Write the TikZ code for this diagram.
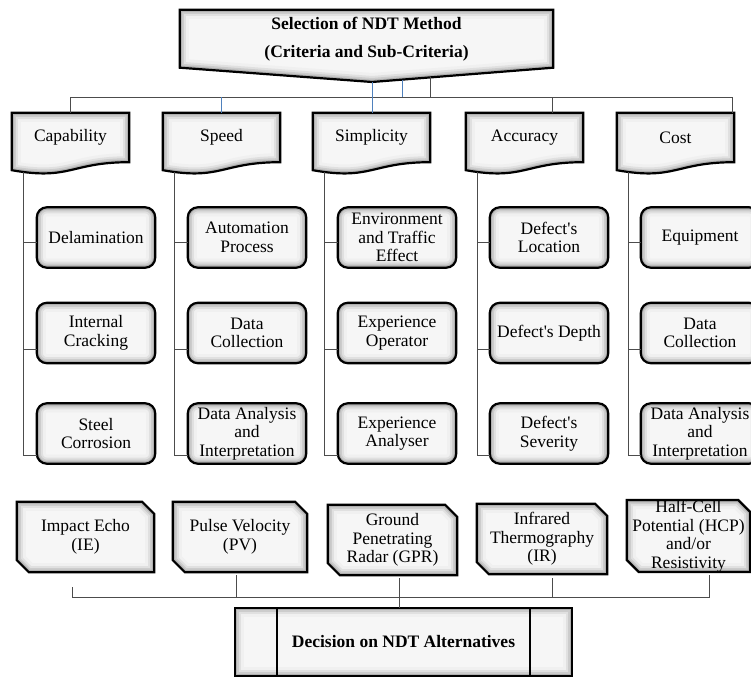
\documentclass[tikz,border=0pt]{standalone}
\usepackage{fontspec}
\setmainfont{Liberation Serif}
\usetikzlibrary{calc,backgrounds}
\definecolor{lineblue}{RGB}{79,129,189}
\newcommand\myfs{\fontsize{17.5}{18.5}\selectfont}
\newcommand\glowpath[1]{%
  \begin{scope}
    \clip #1;
    \fill[gray!7] #1;
    \draw[gray!12,line width=18pt] #1;
    \draw[gray!24,line width=12pt] #1;
    \draw[gray!40,line width=8pt] #1;
    \draw[gray!62,line width=4.5pt] #1;
  \end{scope}
  \draw[line width=2.2pt] #1;}
\begin{document}
\begin{tikzpicture}[x=1pt,y=-1pt,
  txt/.style={inner sep=0pt, align=center, font=\myfs},
  conn/.style={draw=black!70, line width=1pt},
  bconn/.style={draw=lineblue, line width=1pt}]
\useasboundingbox (0,0) rectangle (751,677);

% title
\node[txt, minimum width=373pt, minimum height=57.5pt, font=\fontsize{17.5}{28}\selectfont\bfseries] (top) at (366.5,38.75) {Selection of NDT Method\\(Criteria and Sub-Criteria)};
\coordinate (tip) at (372,82);
\coordinate (st1) at (402,79.6);
\coordinate (st2) at (430,77.4);
\coordinate (bus) at (0,97);
\coordinate (bbus) at (0,597);

% criteria
\node[txt, minimum width=117pt, minimum height=49pt] (c1) at (70.5,137.5) {Capability};
\node[txt, minimum width=117pt, minimum height=49pt] (c2) at (221.5,137.5) {Speed};
\node[txt, minimum width=117pt, minimum height=49pt] (c3) at (371.5,137.5) {Simplicity};
\node[txt, minimum width=117pt, minimum height=49pt] (c4) at (524.5,137.5) {Accuracy};
\node[txt, minimum width=117pt, minimum height=49pt] (c5) at (675.5,137.5) {Cost};
\coordinate (c4d) at ($(c4.north)+(28,0)$);
\coordinate (c5d) at ($(c5.north east)+(-2,0)$);

% sub-criteria
\tikzset{sub/.style={txt, minimum width=118pt, minimum height=60pt}}
\node[sub] (s11) at (96,237.5) {Delamination};
\node[sub] (s12) at (96,333) {Internal\\Cracking};
\node[sub] (s13) at (96,433.5) {Steel\\Corrosion};
\node[sub] (s21) at (247,237.5) {Automation\\Process};
\node[sub] (s22) at (247,333) {Data\\Collection};
\node[sub] (s23) at (247,433.5) {Data Analysis\\and\\Interpretation};
\node[sub] (s31) at (397,237.5) {Environment\\and Traffic\\Effect};
\node[sub] (s32) at (397,333) {Experience\\Operator};
\node[sub] (s33) at (397,433.5) {Experience\\Analyser};
\node[sub] (s41) at (549,237.5) {Defect\textquotesingle s\\Location};
\node[sub] (s42) at (549,333) {Defect\textquotesingle s Depth};
\node[sub] (s43) at (549,433.5) {Defect\textquotesingle s\\Severity};
\node[sub] (s51) at (700,237.5) {Equipment};
\node[sub] (s52) at (700,333) {Data\\Collection};
\node[sub] (s53) at (700,433.5) {Data Analysis\\and\\Interpretation};

% methods
\node[txt, minimum width=137pt, minimum height=70pt] (m1) at (85.5,537) {Impact Echo\\(IE)};
\node[txt, minimum width=134pt, minimum height=70pt] (m2) at (240,537) {Pulse Velocity\\(PV)};
\node[txt, minimum width=129pt, minimum height=70pt] (m3) at (392.5,540) {Ground\\Penetrating\\Radar (GPR)};
\node[txt, minimum width=130pt, minimum height=70pt] (m4) at (542,539) {Infrared\\Thermography\\(IR)};
\node[txt, minimum width=123pt, minimum height=70pt] (m5) at (688.5,536) {Half-Cell\\Potential (HCP)\\and/or\\Resistivity};

% decision
\node[txt, minimum width=337pt, minimum height=68pt, font=\myfs\bfseries] (d) at (403.5,642) {Decision on NDT Alternatives};

\begin{pgfonlayer}{background}
  \glowpath{(top.north west) -- (top.north east) -- (top.south east) -- (tip) -- (top.south west) -- cycle}
  \foreach \nm in {c1,c2,c3,c4,c5}{
    \glowpath{(\nm.north west) -- (\nm.north east) -- (\nm.south east) .. controls (\nm.south) and ($(\nm.south)+(0,18.5)$) .. ($(\nm.south west)+(0,8)$) -- cycle}
  }
  \foreach \nm in {s11,s12,s13,s21,s22,s23,s31,s32,s33,s41,s42,s43,s51,s52,s53}{
    \glowpath{[rounded corners=10pt] (\nm.north west) rectangle (\nm.south east)}
  }
  \foreach \nm in {m1,m2,m3,m4,m5}{
    \glowpath{(\nm.north west) -- ($(\nm.north east)+(-12,0)$) -- ($(\nm.north east)+(0,12)$) -- (\nm.south east) -- ($(\nm.south west)+(12,0)$) -- ($(\nm.south west)+(0,-12)$) -- cycle}
  }
  \glowpath{(d.north west) rectangle (d.south east)}
  \draw[line width=2.2pt] ($(d.north west)+(42,0)$) -- ($(d.south west)+(42,0)$);
  \draw[line width=2.2pt] ($(d.north east)+(-42,0)$) -- ($(d.south east)+(-42,0)$);
\end{pgfonlayer}

% top connectors
\draw[conn] (c1.north) -- (c1.north |- bus) -- (c5d |- bus) -- (c5d);
\draw[conn] (c4d) -- (c4d |- bus);
\draw[bconn] (c2.north) -- (c2.north |- bus);
\draw[bconn] (tip) -- (tip |- c3.north);
\draw[bconn] (st1) -- (st1 |- bus);
\draw[conn] (st2) -- (st2 |- bus);

% trunks and branches
\foreach \i in {1,2,3,4,5}{
  \draw[conn] ($(c\i.south west)+(12,10)$) |- ($(s\i1.west)+(0,4.5)$);
  \draw[conn] ($(c\i.south west)+(12,10)$) |- ($(s\i2.west)+(0,16)$);
  \draw[conn] ($(c\i.south west)+(12,10)$) |- ($(s\i3.west)+(0,21.5)$);
}

% bottom connectors
\coordinate (p1) at ($(m1.south)+(-13.5,15)$);
\coordinate (p2) at ($(m2.south)+(-4,3)$);
\coordinate (p3) at ($(m3.south)+(6.5,3)$);
\coordinate (p4) at ($(m4.south)+(10,4)$);
\coordinate (p5) at ($(m5.south)+(20.5,3)$);
\draw[conn] (p1) -- (p1 |- bbus) -- (p5 |- bbus) -- (p5);
\draw[conn] (p2) -- (p2 |- bbus);
\draw[conn] (p4) -- (p4 |- bbus);
\draw[conn] (p3) -- (p3 |- d.north);
\end{tikzpicture}
\end{document}
